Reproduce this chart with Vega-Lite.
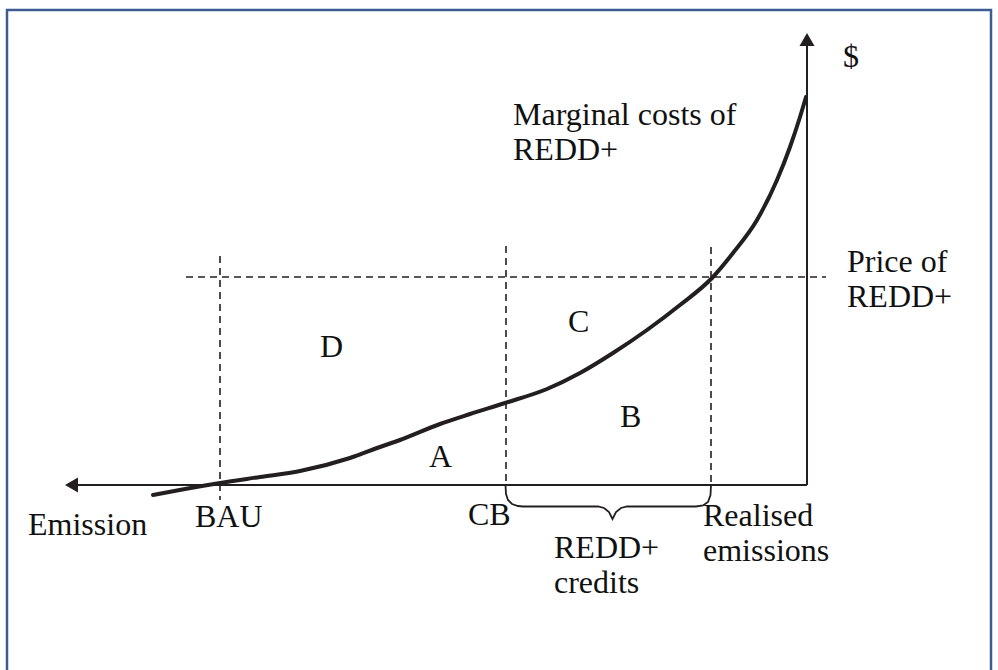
{
  "$schema": "https://vega.github.io/schema/vega-lite/v6.json",
  "autosize": {"type": "fit", "contains": "padding"},
  "width": 998,
  "height": 670,
  "padding": 0,
  "background": "white",
  "config": {"view": {"stroke": null}},
  "datasets": {
    "frame": [{"x": 7, "x2": 991, "y": 475, "y2": -200}],
    "axes": [
      {"x": 75, "x2": 807, "y": 0, "y2": 0},
      {"x": 807, "x2": 807, "y": 0, "y2": 440}
    ],
    "arrowLeft": [{"x": 71.5, "y": 0}],
    "arrowUp": [{"x": 807, "y": 445.5}],
    "dashed": [
      {"x": 186, "x2": 826, "y": 208, "y2": 208},
      {"x": 220, "x2": 220, "y": 229, "y2": -15},
      {"x": 506, "x2": 506, "y": 239, "y2": 0},
      {"x": 711, "x2": 711, "y": 238, "y2": 0}
    ],
    "curve": [
      {"x": 153, "y": -10}, {"x": 185, "y": -4}, {"x": 220, "y": 2},
      {"x": 260, "y": 8}, {"x": 300, "y": 14}, {"x": 350, "y": 27},
      {"x": 380, "y": 38}, {"x": 400, "y": 45}, {"x": 440, "y": 61},
      {"x": 470, "y": 71}, {"x": 505, "y": 82}, {"x": 547, "y": 96},
      {"x": 580, "y": 112}, {"x": 613, "y": 132}, {"x": 647, "y": 155},
      {"x": 680, "y": 180}, {"x": 712, "y": 207}, {"x": 733, "y": 232},
      {"x": 757, "y": 265}, {"x": 777, "y": 305}, {"x": 790, "y": 338},
      {"x": 800, "y": 368}, {"x": 806, "y": 388}
    ],
    "brace": [
      {"i": 1, "x": 505.5, "y": 0}, {"i": 2, "x": 506, "y": -9},
      {"i": 3, "x": 508, "y": -15}, {"i": 4, "x": 512, "y": -19},
      {"i": 5, "x": 518, "y": -21}, {"i": 6, "x": 523, "y": -21.5},
      {"i": 7, "x": 598, "y": -21.5}, {"i": 8, "x": 604, "y": -23},
      {"i": 9, "x": 609, "y": -27}, {"i": 10, "x": 612.5, "y": -34},
      {"i": 11, "x": 616, "y": -27}, {"i": 12, "x": 621, "y": -23},
      {"i": 13, "x": 627, "y": -21.5}, {"i": 14, "x": 696, "y": -21.5},
      {"i": 15, "x": 703, "y": -20.5}, {"i": 16, "x": 708, "y": -17},
      {"i": 17, "x": 710.5, "y": -10}, {"i": 18, "x": 711, "y": 0}
    ],
    "labels": [
      {"t": "$", "x": 843, "y": 418},
      {"t": "Marginal costs of\nREDD+", "x": 513, "y": 360},
      {"t": "Price of\nREDD+", "x": 847, "y": 213},
      {"t": "C", "x": 568, "y": 153},
      {"t": "B", "x": 620, "y": 58},
      {"t": "A", "x": 429, "y": 18},
      {"t": "D", "x": 320, "y": 128},
      {"t": "Emission", "x": 28, "y": -50},
      {"t": "BAU", "x": 195, "y": -42},
      {"t": "CB", "x": 468, "y": -40},
      {"t": "Realised\nemissions", "x": 703, "y": -41},
      {"t": "REDD+\ncredits", "x": 554, "y": -73}
    ]
  },
  "resolve": {"scale": {"x": "shared", "y": "shared"}},
  "layer": [
    {
      "data": {"name": "frame"},
      "mark": {"type": "rect", "fill": "transparent", "stroke": "#3d5d90", "strokeWidth": 2.5, "clip": true},
      "encoding": {
        "x": {"field": "x", "type": "quantitative", "scale": {"domain": [0, 998], "nice": false, "zero": false}, "axis": null},
        "x2": {"field": "x2"},
        "y": {"field": "y", "type": "quantitative", "scale": {"domain": [-185, 485], "nice": false, "zero": false}, "axis": null},
        "y2": {"field": "y2"}
      }
    },
    {
      "data": {"name": "dashed"},
      "mark": {"type": "rule", "color": "#231f20", "strokeWidth": 1.6, "strokeDash": [7, 5]},
      "encoding": {
        "x": {"field": "x", "type": "quantitative", "axis": null},
        "x2": {"field": "x2"},
        "y": {"field": "y", "type": "quantitative", "axis": null},
        "y2": {"field": "y2"}
      }
    },
    {
      "data": {"name": "axes"},
      "mark": {"type": "rule", "color": "#231f20", "strokeWidth": 2},
      "encoding": {
        "x": {"field": "x", "type": "quantitative", "axis": null},
        "x2": {"field": "x2"},
        "y": {"field": "y", "type": "quantitative", "axis": null},
        "y2": {"field": "y2"}
      }
    },
    {
      "data": {"name": "arrowLeft"},
      "mark": {"type": "point", "shape": "triangle-left", "filled": true, "size": 225, "color": "#231f20", "opacity": 1},
      "encoding": {
        "x": {"field": "x", "type": "quantitative", "axis": null},
        "y": {"field": "y", "type": "quantitative", "axis": null}
      }
    },
    {
      "data": {"name": "arrowUp"},
      "mark": {"type": "point", "shape": "triangle-up", "filled": true, "size": 225, "color": "#231f20", "opacity": 1},
      "encoding": {
        "x": {"field": "x", "type": "quantitative", "axis": null},
        "y": {"field": "y", "type": "quantitative", "axis": null}
      }
    },
    {
      "data": {"name": "brace"},
      "mark": {"type": "line", "color": "#231f20", "strokeWidth": 1.8, "interpolate": "linear"},
      "encoding": {
        "x": {"field": "x", "type": "quantitative", "axis": null},
        "y": {"field": "y", "type": "quantitative", "axis": null},
        "order": {"field": "i", "type": "quantitative"}
      }
    },
    {
      "data": {"name": "curve"},
      "mark": {"type": "line", "color": "#231f20", "strokeWidth": 4, "interpolate": "monotone", "strokeCap": "round"},
      "encoding": {
        "x": {"field": "x", "type": "quantitative", "axis": null},
        "y": {"field": "y", "type": "quantitative", "axis": null}
      }
    },
    {
      "data": {"name": "labels"},
      "mark": {"type": "text", "align": "left", "baseline": "alphabetic", "font": "Liberation Serif, DejaVu Serif, serif", "fontSize": 32, "lineHeight": 35, "lineBreak": "\n", "color": "#111111"},
      "encoding": {
        "x": {"field": "x", "type": "quantitative", "axis": null},
        "y": {"field": "y", "type": "quantitative", "axis": null},
        "text": {"field": "t", "type": "nominal"}
      }
    }
  ]
}
